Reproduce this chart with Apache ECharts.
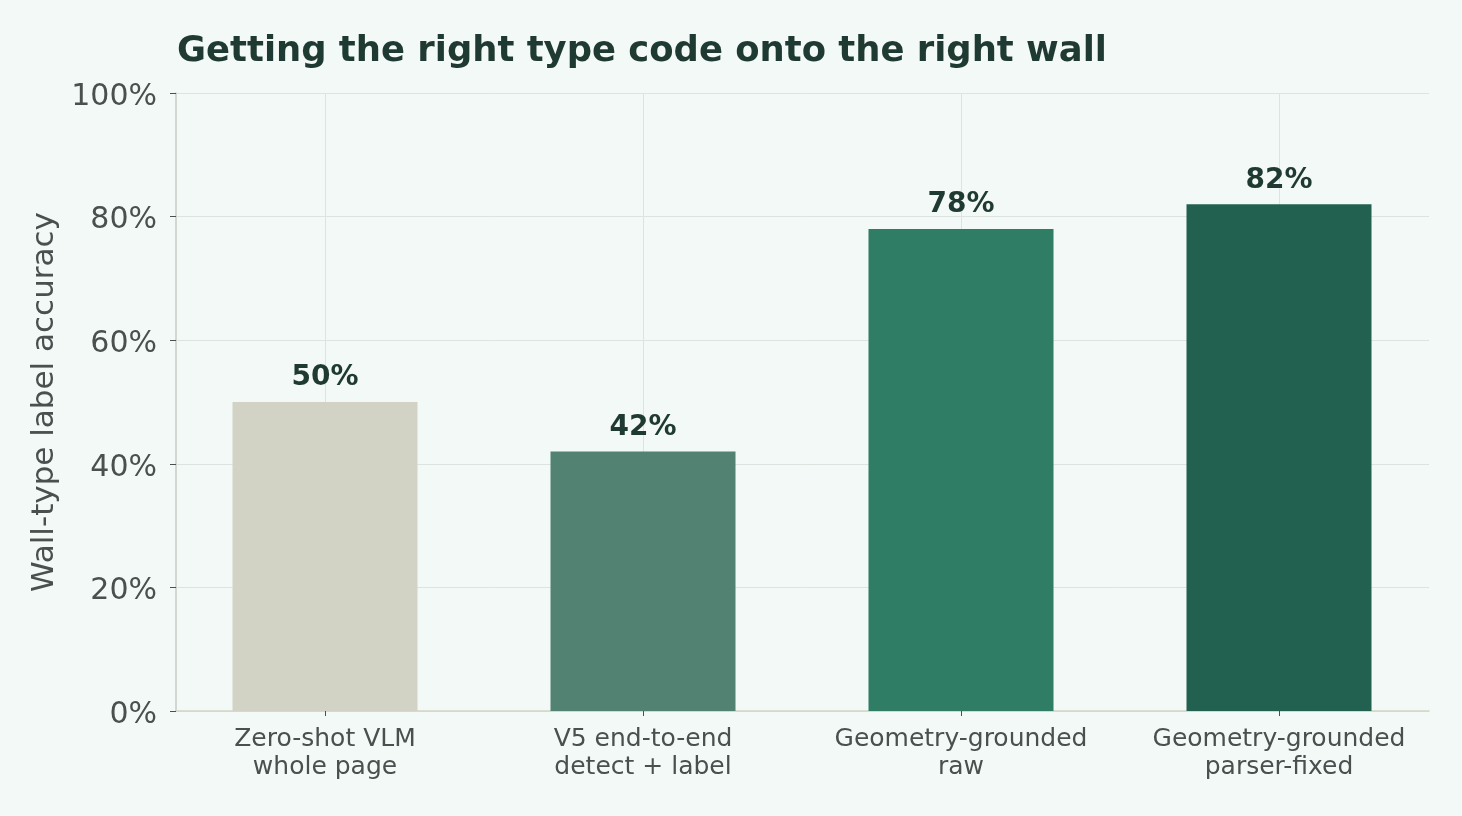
<!DOCTYPE html>
<html lang="en">
<head>
    <meta charset="UTF-8" />
    <title>Wall-type label accuracy</title>
    <script src="https://cdn.jsdelivr.net/npm/echarts@6/dist/echarts.min.js"></script>
    <style>
        html, body { margin: 0; padding: 0; background: #f3f9f6; }
        #chart { width: 1462px; height: 816px; }
    </style>
</head>
<body>
    <div id="chart"></div>
    <script type="text/javascript">
        var categories = ['Zero-shot VLM\nwhole page', 'V5 end-to-end\ndetect + label', 'Geometry-grounded\nraw', 'Geometry-grounded\nparser-fixed'];
        var accuracy = [50, 42, 78, 82]; // percent
        var barColors = ['#d3d3c5', '#518272', '#2f7d65', '#22614f'];

        var chart = echarts.init(document.getElementById('chart'));
        var font = 'DejaVu Sans';
        var textGray = '#4a4f4f';
        var gridColor = '#dde4df';

        // grid 0 = the visible frame (y axis, horizontal lines, bottom line)
        // grid 1 = slightly wider band for the bars, like the padded x range of the original
        var option = {
            backgroundColor: '#f3f9f6',
            animation: false,
            title: {
                text: 'Getting the right type code onto the right wall',
                left: 172,
                top: 29,
                textStyle: {
                    color: '#1f3a32',
                    fontFamily: font,
                    fontWeight: 'bold',
                    fontSize: 35.4
                }
            },
            grid: [
                { left: 176, right: 33, top: 93, bottom: 105 },
                { left: 166, right: 24, top: 93, bottom: 105 }
            ],
            xAxis: [{
                gridIndex: 0,
                type: 'value',
                min: 0,
                max: 1,
                axisLine: { show: true, lineStyle: { color: '#d4d3c4', width: 1.5 } },
                axisTick: { show: false },
                axisLabel: { show: false },
                splitLine: { show: false }
            }, {
                gridIndex: 1,
                type: 'category',
                data: categories,
                axisLine: { show: false },
                axisTick: { show: true, alignWithLabel: true, length: 5, lineStyle: { color: textGray } },
                splitLine: { show: false },
                axisLabel: {
                    color: textGray,
                    fontFamily: font,
                    fontSize: 25,
                    lineHeight: 28,
                    margin: 14,
                    interval: 0
                }
            }],
            yAxis: [{
                gridIndex: 0,
                type: 'value',
                min: 0,
                max: 100,
                interval: 20,
                name: 'Wall-type label accuracy',
                nameLocation: 'middle',
                nameGap: 111,
                nameTextStyle: {
                    color: textGray,
                    fontFamily: font,
                    fontSize: 31
                },
                axisLine: { show: true, lineStyle: { color: '#c8cbc4', width: 1.5 } },
                axisTick: { show: true, length: 6, lineStyle: { color: textGray } },
                splitLine: { lineStyle: { color: gridColor } },
                axisLabel: {
                    margin: 19,
                    formatter: function (v) { return '{t|' + v + '%}'; },
                    rich: {
                        t: {
                            color: textGray,
                            fontFamily: font,
                            fontSize: 30,
                            padding: [8, 0, 0, 0]
                        }
                    }
                }
            }, {
                gridIndex: 1,
                type: 'value',
                min: 0,
                max: 100,
                show: false
            }],
            series: [{
                type: 'bar',
                xAxisIndex: 1,
                yAxisIndex: 1,
                z: 3,
                barWidth: 185,
                data: accuracy.map(function (v, i) {
                    return { value: v, itemStyle: { color: barColors[i] } };
                }),
                label: {
                    show: true,
                    position: 'top',
                    distance: 10,
                    formatter: '{c}%',
                    color: '#1f3a32',
                    fontFamily: font,
                    fontWeight: 'bold',
                    fontSize: 28
                },
                // vertical grid lines through the category centres
                markLine: {
                    silent: true,
                    z: 1,
                    symbol: 'none',
                    label: { show: false },
                    lineStyle: { color: gridColor, type: 'solid', width: 1 },
                    data: categories.map(function (c, i) { return { xAxis: i }; })
                }
            }]
        };

        chart.setOption(option, true);
    </script>
</body>
</html>
